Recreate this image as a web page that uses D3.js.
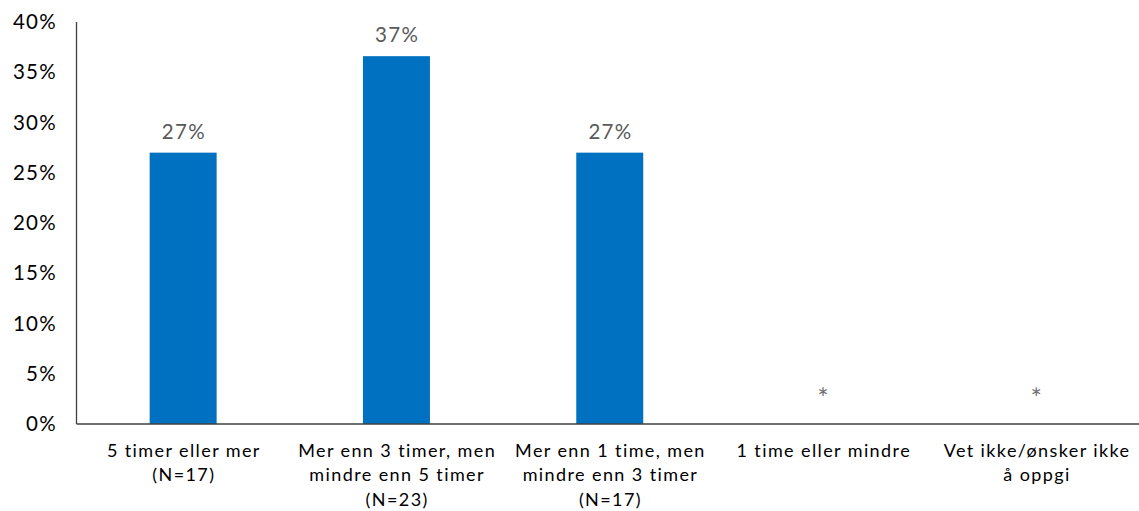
<!DOCTYPE html>
<html><head><meta charset="utf-8">
<script src="https://cdn.jsdelivr.net/npm/d3@7"></script>
<style>body{margin:0;background:#fff}svg{display:block}text{font-family:Lato,"Open Sans",sans-serif}</style>
</head><body>
<svg id="c" width="1139" height="511"></svg>
<script>
const categories = [
  ["5 timer eller mer", "(N=17)"],
  ["Mer enn 3 timer, men", "mindre enn 5 timer", "(N=23)"],
  ["Mer enn 1 time, men", "mindre enn 3 timer", "(N=17)"],
  ["1 time eller mindre"],
  ["Vet ikke/ønsker ikke", "å oppgi"]
];
const values = [27, 36.6, 27, null, null];
const valueLabels = ["27%", "37%", "27%", "*", "*"];
const yTicks = [0, 5, 10, 15, 20, 25, 30, 35, 40];

const svg = d3.select("#c");
const m = {left: 76.5, right: -4, top: 22, bottom: 87};
const W = 1139, H = 511;
const x = d3.scaleBand().domain(d3.range(categories.length)).range([m.left, W - m.right]).paddingInner(0.686).paddingOuter(0.343);
const y = d3.scaleLinear().domain([0, 40]).range([H - m.bottom, m.top]);

// y tick labels
svg.append("g").selectAll("text").data(yTicks).join("text")
  .attr("x", 57).attr("y", d => y(d)).attr("dy", "0.35em")
  .attr("text-anchor", "end").attr("font-size", 20.5).attr("letter-spacing", 1.3).attr("fill", "#000")
  .text(d => d + "%");

// bars
svg.append("g").selectAll("rect").data(values.map((v, i) => ({v, i})).filter(d => d.v != null)).join("rect")
  .attr("x", d => x(d.i)).attr("width", x.bandwidth())
  .attr("y", d => y(d.v)).attr("height", d => y(0) - y(d.v))
  .attr("fill", "#0070C0");

// axes lines
svg.append("line").attr("x1", m.left).attr("x2", m.left).attr("y1", y(40)).attr("y2", y(0))
  .attr("stroke", "#404040").attr("stroke-width", 1.3);
svg.append("line").attr("x1", m.left).attr("x2", W).attr("y1", y(0)).attr("y2", y(0))
  .attr("stroke", "#404040").attr("stroke-width", 1.3);

// value labels
svg.append("g").selectAll("text").data(valueLabels).join("text")
  .attr("x", (d, i) => x(i) + x.bandwidth() / 2 + (values[i] == null ? 0 : 0.7))
  .attr("y", (d, i) => values[i] == null ? y(0) - 16 : y(values[i]) - 14)
  .attr("text-anchor", "middle")
  .attr("font-size", (d, i) => values[i] == null ? 27 : 20.5)
  .attr("font-family", (d, i) => values[i] == null ? "DejaVu Sans" : null)
  .attr("letter-spacing", (d, i) => values[i] == null ? 0 : 1.3)
  .attr("fill", (d, i) => values[i] == null ? "#707070" : "#595959")
  .text(d => d);

// category labels
const cg = svg.append("g").selectAll("text").data(categories).join("text")
  .attr("text-anchor", "middle").attr("font-size", 18).attr("letter-spacing", 1.4).attr("fill", "#000")
  .attr("transform", (d, i) => `translate(${x(i) + x.bandwidth() / 2 + 0.7},457)`);
cg.selectAll("tspan").data(d => d).join("tspan")
  .attr("x", 0).attr("y", (d, j) => j * 24.3).text(d => d);
</script>
</body></html>
